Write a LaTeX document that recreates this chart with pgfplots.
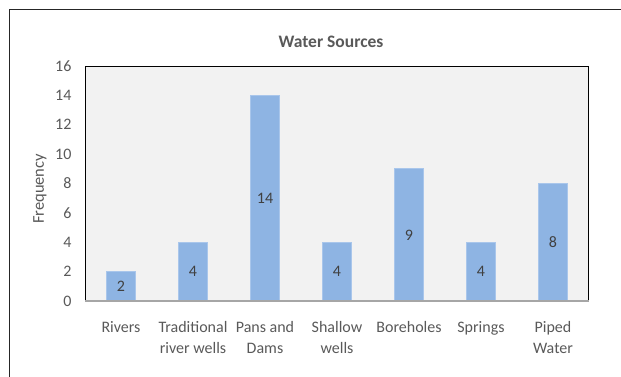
\documentclass[border=0pt]{standalone}
\usepackage{pgfplots}
\pgfplotsset{compat=1.18}
\usepackage{fontspec}
\setmainfont{Carlito}
\definecolor{barblue}{HTML}{8EB4E3}
\definecolor{baredge}{HTML}{A9C6EB}
\definecolor{txt}{HTML}{595959}
\definecolor{lbl}{HTML}{404040}
\definecolor{plotbg}{HTML}{F2F2F2}
\definecolor{axgray}{HTML}{A6A6A6}
\begin{document}
\begin{tikzpicture}[x=1pt,y=1pt]
\path[use as bounding box] (0,0) rectangle (621,376);
\draw[line width=1pt, black!85] (9,-2) -- (9,367) -- (623,367);
\node[font=\fontsize{17.5}{21}\selectfont\bfseries, text=txt] at (331,334) {Water Sources};
\begin{axis}[
  at={(85pt,75pt)}, anchor=south west,
  scale only axis, width=504pt, height=235pt,
  xmin=-0.5, xmax=6.5, ymin=0, ymax=16,
  ytick={0,2,...,16}, xtick={0,1,2,3,4,5,6},
  xticklabels={Rivers,{Traditional\\river wells},{Pans and\\Dams},{Shallow\\wells},Boreholes,Springs,{Piped\\Water}},
  /pgf/number format/assume math mode=true,
  axis background/.style={fill=plotbg},
  axis line style={black, line width=1pt},
  major tick length=0pt,
  tick style={draw=none},
  yticklabel style={font=\fontsize{16}{20}\selectfont, text=txt, xshift=-10pt},
  xticklabel style={font=\fontsize{16}{21}\selectfont, text=txt, align=center, yshift=-17pt},
  ylabel={Frequency},
  ylabel style={font=\fontsize{16.5}{20}\selectfont, text=txt, at={(axis description cs:-0.0893,0.477)}, anchor=center},
  ybar, bar width=28.4pt,
  nodes near coords,
  visualization depends on={rawy \as \rawy},
  nodes near coords style={anchor=center, yshift=-\rawy*7.34375pt, text=lbl, font=\fontsize{16}{20}\selectfont},
  clip=false,
]
\addplot[fill=barblue, draw=baredge, line width=0.8pt] coordinates {(0,2) (1,4) (2,14) (3,4) (4,9) (5,4) (6,8)};
\draw[axgray, line width=1.2pt] (rel axis cs:0,0) -- (rel axis cs:1,0);
\end{axis}
\end{tikzpicture}
\end{document}
